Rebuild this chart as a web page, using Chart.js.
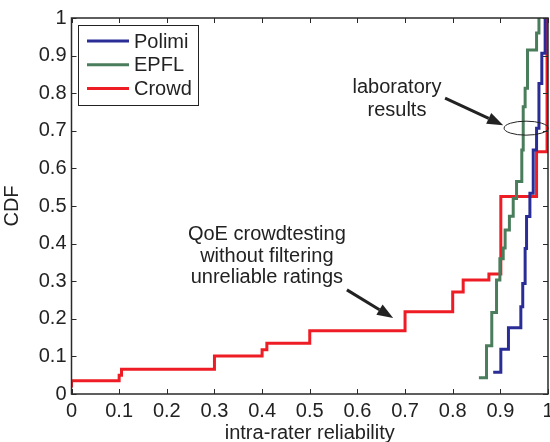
<!DOCTYPE html>
<html>
<head>
<meta charset="utf-8">
<script src="https://cdn.jsdelivr.net/npm/chart.js@4/dist/chart.umd.min.js"></script>
<style>
  html, body { margin: 0; padding: 0; background: #fff; }
  #wrap { width: 550px; height: 442px; }
</style>
</head>
<body>
<div id="wrap"><canvas id="cdf" width="550" height="442"></canvas></div>
<script>
// step points of each CDF (x = reliability, y = cumulative share)
const polimiX = [0.885, 0.901, 0.917, 0.943, 0.947, 0.952, 0.955, 0.962, 0.969, 0.976, 0.981, 0.987, 0.994]
const polimiY = [0.058, 0.119, 0.176, 0.232, 0.294, 0.387, 0.472, 0.534, 0.649, 0.707, 0.826, 0.906, 1.0]

const epflX = [0.855, 0.871, 0.882, 0.892, 0.899, 0.906, 0.91, 0.919, 0.927, 0.934, 0.945, 0.948, 0.952, 0.957, 0.976, 0.981]
const epflY = [0.043, 0.128, 0.217, 0.303, 0.36, 0.388, 0.436, 0.473, 0.52, 0.565, 0.649, 0.764, 0.813, 0.915, 0.96, 1.0]

const crowdX = [0, 0, 0.1, 0.105, 0.3, 0.4, 0.41, 0.5, 0.7, 0.8, 0.822, 0.876, 0.901, 0.976, 0.998]
const crowdY = [0.017, 0.035, 0.05, 0.066, 0.101, 0.118, 0.135, 0.168, 0.219, 0.271, 0.303, 0.319, 0.525, 0.644, 1.0]

const seriesNames = ['Polimi', 'EPFL', 'Crowd']
const seriesColors = ['#2b2d96', '#4a7d5b', '#ee1c25']

const labLines = ['laboratory', 'results']
const qoeLines = ['QoE crowdtesting', 'without filtering', 'unreliable ratings']

const fontName = '"Liberation Sans", Arial, sans-serif'
const fontSize = 20

function pontos(xs, ys){
    return xs.map((x, i) => ({x: x, y: ys[i]}))
}

function fmt(v){
    if (Math.abs(v) < 1e-9) return '0'
    if (Math.abs(v - 1) < 1e-9) return '1'
    return v.toFixed(1)
}

// frame + inward ticks, matlab style
const moldura = {
    id: 'moldura',
    afterDatasetsDraw(chart){
        const ctx = chart.ctx
        const a = chart.chartArea
        const sx = chart.scales.x, sy = chart.scales.y
        ctx.save()
        ctx.strokeStyle = '#2a2a2a'
        ctx.lineWidth = 1
        sx.ticks.forEach(t => {
            const px = Math.round(sx.getPixelForValue(t.value)) + 0.5
            ctx.beginPath()
            ctx.moveTo(px, a.bottom); ctx.lineTo(px, a.bottom - 5)
            ctx.moveTo(px, a.top); ctx.lineTo(px, a.top + 5)
            ctx.stroke()
        })
        sy.ticks.forEach(t => {
            const py = Math.round(sy.getPixelForValue(t.value)) + 0.5
            ctx.beginPath()
            ctx.moveTo(a.left, py); ctx.lineTo(a.left + 5, py)
            ctx.moveTo(a.right, py); ctx.lineTo(a.right - 5, py)
            ctx.stroke()
        })
        ctx.lineWidth = 1.5
        ctx.strokeRect(a.left, a.top, a.right - a.left, a.bottom - a.top)
        ctx.restore()
    }
}

function seta(ctx, x1, y1, x2, y2){
    const ang = Math.atan2(y2 - y1, x2 - x1)
    const len = 16, w = 6
    const bx = x2 - len * Math.cos(ang), by = y2 - len * Math.sin(ang)
    ctx.beginPath()
    ctx.moveTo(x1, y1); ctx.lineTo(bx, by)
    ctx.stroke()
    ctx.beginPath()
    ctx.moveTo(x2, y2)
    ctx.lineTo(bx + w * Math.sin(ang), by - w * Math.cos(ang))
    ctx.lineTo(bx - w * Math.sin(ang), by + w * Math.cos(ang))
    ctx.closePath()
    ctx.fill()
}

const anotacoes = {
    id: 'anotacoes',
    afterDraw(chart){
        const ctx = chart.ctx
        const sx = chart.scales.x, sy = chart.scales.y
        const X = v => sx.getPixelForValue(v)
        const Y = v => sy.getPixelForValue(v)
        ctx.save()
        ctx.fillStyle = '#222'
        ctx.strokeStyle = '#222'
        ctx.font = fontSize + 'px ' + fontName
        ctx.textAlign = 'center'
        ctx.textBaseline = 'middle'
        labLines.forEach((s, i) => ctx.fillText(s, X(0.683), Y(0.816) + i * 23))
        qoeLines.forEach((s, i) => ctx.fillText(s, X(0.41), Y(0.423) + i * 21.5))

        ctx.lineWidth = 3
        seta(ctx, X(0.784), Y(0.787), X(0.906), Y(0.715))
        seta(ctx, X(0.578), Y(0.277), X(0.675), Y(0.202))

        ctx.lineWidth = 1
        ctx.beginPath()
        ctx.ellipse(X(0.954), Y(0.707), 22, 7, 0, 0, Math.PI * 2)
        ctx.stroke()

        // legend box
        const lx = 78, ly = 25, lw = 120, lh = 80
        ctx.fillStyle = '#fff'
        ctx.fillRect(lx, ly, lw, lh)
        ctx.strokeStyle = '#222'
        ctx.lineWidth = 1
        ctx.strokeRect(lx + 0.5, ly + 0.5, lw, lh)
        ctx.textAlign = 'left'
        chart.data.datasets.forEach((ds, i) => {
            const yy = ly + 16 + i * 23.7
            ctx.strokeStyle = ds.borderColor
            ctx.lineWidth = 3
            ctx.beginPath()
            ctx.moveTo(lx + 9, yy); ctx.lineTo(lx + 51, yy)
            ctx.stroke()
            ctx.fillStyle = '#222'
            ctx.fillText(ds.label, lx + 56, yy + 1)
        })
        ctx.restore()
    }
}

const grafico = new Chart(document.getElementById('cdf'), {
    type: 'line',
    data: {
        datasets: [
            { label: seriesNames[0], data: pontos(polimiX, polimiY), borderColor: seriesColors[0] },
            { label: seriesNames[1], data: pontos(epflX, epflY), borderColor: seriesColors[1] },
            { label: seriesNames[2], data: pontos(crowdX, crowdY), borderColor: seriesColors[2] }
        ]
    },
    options: {
        responsive: false,
        animation: false,
        layout: { padding: { top: 18, right: 2, left: 0, bottom: 0 } },
        elements: {
            line: { borderWidth: 3, stepped: 'before', tension: 0, fill: false },
            point: { radius: 0, hoverRadius: 0 }
        },
        plugins: { legend: { display: false }, tooltip: { enabled: false } },
        scales: {
            x: {
                type: 'linear', min: 0, max: 1,
                grid: { display: false, drawTicks: false },
                border: { display: false },
                ticks: { stepSize: 0.1, padding: 5, color: '#222', font: { family: fontName, size: fontSize }, callback: fmt, maxRotation: 0 },
                title: { display: true, text: 'intra-rater reliability', color: '#222', font: { family: fontName, size: fontSize }, padding: { top: 0, bottom: -3 } },
                afterFit: s => { s.height = 48; s.paddingLeft = 0; s.paddingRight = 0 }
            },
            y: {
                type: 'linear', min: 0, max: 1,
                grid: { display: false, drawTicks: false },
                border: { display: false },
                ticks: { stepSize: 0.1, padding: 5, color: '#222', font: { family: fontName, size: fontSize }, callback: fmt },
                title: { display: true, text: 'CDF', color: '#222', font: { family: fontName, size: fontSize }, padding: { top: 0, bottom: 0 } },
                afterFit: s => { s.width = 71.5; s.paddingTop = 0; s.paddingBottom = 0 }
            }
        }
    },
    plugins: [moldura, anotacoes]
})
</script>
</body>
</html>
